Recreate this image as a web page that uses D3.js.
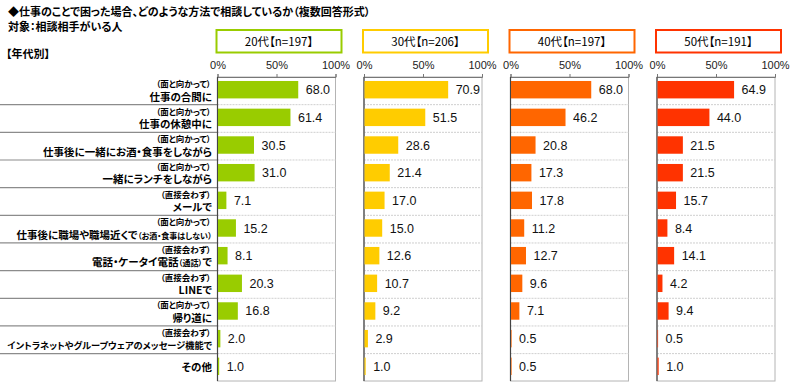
<!DOCTYPE html>
<html>
<head>
<meta charset="utf-8">
<script src="https://cdn.jsdelivr.net/npm/d3@7"></script>
<style>
  body { margin: 0; background: #fff; }
  svg { display: block; font-family: "Noto Sans CJK JP", sans-serif; font-feature-settings: "palt"; }
  .num { font-family: "Liberation Sans", Arial, sans-serif; }
</style>
</head>
<body>
<svg id="chart" width="795" height="390"></svg>
<script>
// categories (sub label + main label)
const subLabels = ["（面と向かって）", "（面と向かって）", "（面と向かって）", "（面と向かって）", "（直接会わず）",
  "（面と向かって）", "（直接会わず）", "（直接会わず）", "（面と向かって）", "（直接会わず）", ""];
const categories = ["仕事の合間に", "仕事の休憩中に", "仕事後に一緒にお酒・食事をしながら", "一緒にランチをしながら",
  "メールで", "仕事後に職場や職場近くで", "電話・ケータイ電話", "LINEで", "帰り道に",
  "イントラネットやグループウェアのメッセージ機能で", "その他"];
// small trailing parts of some labels
const labelTails = ["", "", "", "", "", "（お酒・食事はしない）", "（通話）で", "", "", "", ""];

const groups = ["20代【n=197】", "30代【n=206】", "40代【n=197】", "50代【n=191】"];
const groupColors = ["#99cc00", "#ffcc00", "#ff6600", "#ff3300"];

const values20 = [68.0, 61.4, 30.5, 31.0, 7.1, 15.2, 8.1, 20.3, 16.8, 2.0, 1.0];
const values30 = [70.9, 51.5, 28.6, 21.4, 17.0, 15.0, 12.6, 10.7, 9.2, 2.9, 1.0];
const values40 = [68.0, 46.2, 20.8, 17.3, 17.8, 11.2, 12.7, 9.6, 7.1, 0.5, 0.5];
const values50 = [64.9, 44.0, 21.5, 21.5, 15.7, 8.4, 14.1, 4.2, 9.4, 0.5, 1.0];
const seriesValues = [values20, values30, values40, values50];

const tickValues = [0, 50, 100];

const svg = d3.select("#chart");

const plotTop = 77, plotBottom = 381;
const panelW = 118;
const panelX = d3.scaleLinear().domain([0, 3]).range([217.5, 657]);

const y = d3.scaleBand()
  .domain(categories)
  .range([plotTop, plotBottom])
  .paddingInner(0.37)
  .paddingOuter(0.18)
  .align(0.4);
const step = y.step();
const rowTop = (i) => plotTop + i * step;

// titles
svg.append("text").attr("x", 8).attr("y", 16)
  .attr("font-size", 11).attr("font-weight", "bold")
  .text("◆仕事のことで困った場合、どのような方法で相談しているか（複数回答形式）");
svg.append("text").attr("x", 8).attr("y", 30.5)
  .attr("font-size", 11).attr("font-weight", "bold")
  .text("対象：相談相手がいる人");
svg.append("text").attr("x", 6).attr("y", 57.5)
  .attr("font-size", 11).attr("font-weight", "bold")
  .text("【年代別】");

// category labels on the left
const labels = svg.append("g");
categories.forEach((c, i) => {
  if (i < categories.length - 1) {
    labels.append("line")
      .attr("x1", 0).attr("x2", 217)
      .attr("y1", rowTop(i + 1)).attr("y2", rowTop(i + 1))
      .attr("stroke", "#8c8c8c").attr("stroke-width", 1.2);
  }
  if (subLabels[i]) {
    labels.append("text")
      .attr("x", 211).attr("y", rowTop(i) + 10)
      .attr("text-anchor", "end")
      .attr("font-size", 8.5).attr("font-weight", "bold")
      .text(subLabels[i]);
  }
  const t = labels.append("text")
    .attr("x", 212)
    .attr("y", subLabels[i] ? rowTop(i) + 23.5 : rowTop(i) + step / 2 + 4)
    .attr("text-anchor", "end")
    .attr("font-size", 10.5).attr("font-weight", "bold");
  t.append("tspan").text(c);
  if (labelTails[i]) {
    if (i === 6) {
      t.append("tspan").attr("font-size", 8).text("（通話）");
      t.append("tspan").text("で");
    } else {
      t.append("tspan").attr("font-size", 8).text(labelTails[i]);
    }
  }
  // shrink labels that are wider than the label column
  const w = t.node().getComputedTextLength();
  if (w > 205) t.attr("font-size", 10.5 * 205 / w);
});

// panels
seriesValues.forEach((vals, g) => {
  const x0 = panelX(g);
  const x = d3.scaleLinear().domain([0, 100]).range([x0, x0 + panelW]);
  const color = groupColors[g];
  const panel = svg.append("g");

  // header box
  panel.append("rect")
    .attr("x", x0 - 1).attr("y", 30)
    .attr("width", 125).attr("height", 22.5)
    .attr("fill", "#fff").attr("stroke", color).attr("stroke-width", 2);
  panel.append("text")
    .attr("x", x0 + 61.5).attr("y", 45.5)
    .attr("text-anchor", "middle")
    .attr("font-size", 11.5)
    .text(groups[g]);

  // frame
  panel.append("rect")
    .attr("x", x0).attr("y", plotTop)
    .attr("width", panelW).attr("height", plotBottom - plotTop)
    .attr("fill", "none").attr("stroke", "#b4b4b4");

  // dashed row separators
  panel.selectAll(".sep").data(d3.range(1, categories.length)).enter().append("line")
    .attr("x1", x0).attr("x2", x0 + panelW)
    .attr("y1", (i) => rowTop(i))
    .attr("y2", (i) => rowTop(i))
    .attr("stroke", "#cfcfcf").attr("stroke-dasharray", "2,1");

  // top axis
  const axis = panel.append("g")
    .attr("transform", `translate(0, ${plotTop})`)
    .call(d3.axisTop(x).tickValues(tickValues).tickSize(3).tickPadding(5).tickFormat((d) => d + "%"));
  axis.select(".domain").attr("stroke", "#777");
  axis.selectAll(".tick line").attr("stroke", "#777");
  axis.selectAll("text")
    .attr("class", "num")
    .attr("font-size", 11).attr("fill", "#222");

  // left axis line
  panel.append("line")
    .attr("x1", x0).attr("x2", x0)
    .attr("y1", plotTop).attr("y2", plotBottom)
    .attr("stroke", "#444").attr("stroke-width", 1.2);

  // bars
  panel.selectAll(".bar").data(vals).enter().append("rect")
    .attr("x", x0 + 0.5)
    .attr("y", (d, i) => y(categories[i]))
    .attr("width", (d) => x(d) - x0)
    .attr("height", y.bandwidth())
    .attr("fill", color);

  // value labels
  panel.selectAll(".val").data(vals).enter().append("text")
    .attr("class", "num")
    .attr("x", (d) => x(d) + 8)
    .attr("y", (d, i) => y(categories[i]) + y.bandwidth() / 2 + 4.5)
    .attr("font-size", 12.5)
    .attr("fill", "#111")
    .text((d) => d.toFixed(1));
});
</script>
</body>
</html>
